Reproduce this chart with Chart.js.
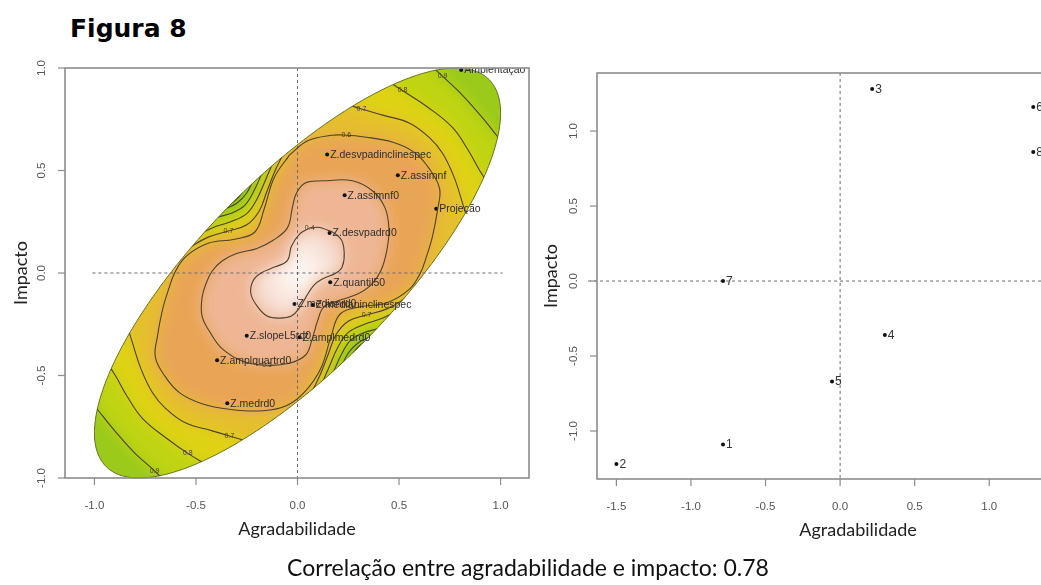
<!DOCTYPE html>
<html>
<head>
<meta charset="utf-8">
<script src="https://cdn.jsdelivr.net/npm/chart.js@4/dist/chart.umd.min.js"></script>
<style>
  html, body { margin: 0; padding: 0; width: 1041px; height: 585px; overflow: hidden; background: #fff; }
  #title { position: absolute; left: 70px; top: 16px; font: bold 25px "DejaVu Sans", Verdana, sans-serif; line-height: 25px; color: #000; }
  #caption { position: absolute; left: 0; width: 1056px; top: 554px; text-align: center; font: 23px Lato, sans-serif; line-height: 26px; color: #111; }
  #left { position: absolute; left: 0; top: 0; }
  #right { position: absolute; left: 520px; top: 0; }
</style>
</head>
<body>
<div id="title">Figura 8</div>
<canvas id="left" width="535" height="585"></canvas>
<canvas id="right" width="605" height="585"></canvas>
<div id="caption">Correlação entre agradabilidade e impacto: 0.78</div>
<script>
// ---- data -----------------------------------------------------------
const correlation = 0.78;

// variables (left panel)
const varNames = ['Ambientação', 'Z.desvpadinclinespec', 'Z.assimnf', 'Z.assimnf0', 'Projeção',
  'Z.desvpadrd0', 'Z.quantil50', 'Z.medianrd0', 'Z.medianinclinespec', 'Z.slopeL5rd0',
  'Z.amplmedrd0', 'Z.amplquartrd0', 'Z.medrd0'];
const varAgradabilidade = [0.806, 0.146, 0.494, 0.232, 0.683, 0.158, 0.161, -0.015, 0.075, -0.250, 0.010, -0.396, -0.346];
const varImpacto = [0.990, 0.578, 0.477, 0.379, 0.314, 0.195, -0.045, -0.151, -0.156, -0.306, -0.314, -0.425, -0.635];

// groups (right panel)
const groupNames = ['1', '2', '3', '4', '5', '6', '7', '8'];
const groupAgradabilidade = [-0.785, -1.50, 0.215, 0.30, -0.054, 1.295, -0.785, 1.295];
const groupImpacto = [-1.09, -1.22, 1.28, -0.36, -0.67, 1.16, 0.00, 0.86];

// axis ticks
const leftTicksX = [-1, -0.5, 0, 0.5, 1];
const leftTicksY = [-1, -0.5, 0, 0.5, 1];
const rightTicksX = [-1.5, -1, -0.5, 0, 0.5, 1, 1.5];
const rightTicksY = [-1, -0.5, 0, 0.5, 1];

// contour lines of the surface, [agradabilidade, impacto]
const contourLow04 = [[0.06,0.22],[0.12,0.22],[0.21,0.17],[0.23,0.10],[0.22,0.03],[0.19,0.00],[0.12,-0.03],[0.08,-0.06],[0.04,-0.12],[0.01,-0.17],[-0.03,-0.21],[-0.09,-0.22],[-0.15,-0.21],[-0.20,-0.16],[-0.23,-0.10],[-0.22,-0.04],[-0.18,0.00],[-0.11,0.03],[-0.05,0.06],[-0.03,0.13],[0.01,0.19],[0.06,0.22]];
const contourLow05 = [[0.12,0.45],[0.27,0.45],[0.37,0.40],[0.43,0.32],[0.45,0.22],[0.44,0.11],[0.41,0.01],[0.36,-0.06],[0.29,-0.105],[0.20,-0.135],[0.13,-0.165],[0.10,-0.23],[0.07,-0.33],[0.04,-0.40],[-0.04,-0.44],[-0.15,-0.45],[-0.27,-0.43],[-0.37,-0.37],[-0.43,-0.29],[-0.47,-0.21],[-0.47,-0.12],[-0.45,-0.05],[-0.42,0.01],[-0.37,0.06],[-0.30,0.095],[-0.20,0.12],[-0.12,0.16],[-0.05,0.22],[-0.025,0.32],[-0.005,0.39],[0.04,0.44],[0.12,0.45]];
const contourRing06 = [[-0.04,0.575],[0.05,0.645],[0.17,0.672],[0.24,0.672],[0.32,0.665],[0.47,0.638],[0.58,0.585],[0.655,0.50],[0.70,0.41],[0.69,0.31],[0.665,0.18],[0.635,0.08],[0.605,0.0],[0.55,-0.08],[0.44,-0.145],[0.31,-0.165],[0.21,-0.20],[0.165,-0.31],[0.115,-0.465],[0.04,-0.575],[-0.05,-0.645],[-0.17,-0.672],[-0.335,-0.665],[-0.47,-0.638],[-0.58,-0.585],[-0.655,-0.50],[-0.70,-0.41],[-0.69,-0.31],[-0.665,-0.18],[-0.635,-0.08],[-0.605,0.0],[-0.55,0.08],[-0.44,0.145],[-0.31,0.165],[-0.21,0.20],[-0.165,0.31],[-0.115,0.465],[-0.04,0.575]];
const capNE07 = [[0.22,0.83],[0.315,0.80],[0.42,0.77],[0.552,0.731],[0.65,0.66],[0.714,0.584],[0.77,0.47],[0.813,0.34],[0.84,0.25]];
const capNE08 = [[0.44,0.94],[0.517,0.89],[0.64,0.81],[0.764,0.709],[0.84,0.60],[0.897,0.50],[0.95,0.42]];
const capNE09 = [[0.66,1.01],[0.714,0.96],[0.80,0.88],[0.90,0.77],[0.98,0.672],[1.02,0.62]];
const capSW07 = [[-0.22,-0.83],[-0.335,-0.795],[-0.42,-0.77],[-0.552,-0.731],[-0.65,-0.66],[-0.714,-0.584],[-0.77,-0.47],[-0.813,-0.34],[-0.84,-0.25]];
const capSW08 = [[-0.44,-0.94],[-0.54,-0.88],[-0.64,-0.81],[-0.764,-0.709],[-0.84,-0.60],[-0.897,-0.50],[-0.95,-0.42]];
const capSW09 = [[-0.66,-1.01],[-0.704,-0.965],[-0.80,-0.88],[-0.90,-0.77],[-0.98,-0.672],[-1.02,-0.62]];
const patchNW07 = [[-0.07,0.58],[-0.11,0.50],[-0.15,0.40],[-0.19,0.30],[-0.25,0.235],[-0.34,0.205],[-0.44,0.175],[-0.52,0.13],[-0.58,0.085]];
const patchNW08 = [[-0.12,0.54],[-0.155,0.46],[-0.20,0.36],[-0.25,0.29],[-0.33,0.25],[-0.42,0.22],[-0.50,0.18]];
const patchNW09 = [[-0.17,0.50],[-0.21,0.41],[-0.26,0.33],[-0.33,0.29],[-0.40,0.27],[-0.46,0.235]];
const patchNW10 = [[-0.21,0.47],[-0.25,0.39],[-0.30,0.34],[-0.36,0.31],[-0.42,0.275]];
const patchNW11 = [[-0.25,0.43],[-0.29,0.37],[-0.34,0.33],[-0.39,0.30]];
const patchSE07 = [[0.07,-0.58],[0.11,-0.50],[0.15,-0.40],[0.19,-0.30],[0.25,-0.235],[0.34,-0.205],[0.44,-0.175],[0.52,-0.13],[0.58,-0.085]];
const patchSE08 = [[0.12,-0.54],[0.155,-0.46],[0.20,-0.36],[0.25,-0.29],[0.33,-0.25],[0.42,-0.22],[0.50,-0.18]];
const patchSE09 = [[0.17,-0.50],[0.21,-0.41],[0.26,-0.33],[0.33,-0.29],[0.40,-0.27],[0.46,-0.235]];
const patchSE10 = [[0.21,-0.47],[0.25,-0.39],[0.30,-0.34],[0.36,-0.31],[0.42,-0.275]];
const patchSE11 = [[0.25,-0.43],[0.29,-0.37],[0.34,-0.33],[0.39,-0.30]];

// ---- contour table built from the arrays above -----------------------
// 'inner' contours enclose the low part of the surface, 'outer' ones cut off
// the high ends and the two side patches along the ellipse border.
const contourTable = [
  { level: 0.4, pts: contourLow04, kind: 'inner', labelAt: 0 },
  { level: 0.5, pts: contourLow05, kind: 'inner', labelAt: 15 },
  { level: 0.6, pts: contourRing06, kind: 'inner', labelAt: 3 },
  { level: 0.7, pts: capNE07, kind: 'outer', labelAt: 1 },
  { level: 0.8, pts: capNE08, kind: 'outer', labelAt: 1 },
  { level: 0.9, pts: capNE09, kind: 'outer', labelAt: 1 },
  { level: 0.7, pts: capSW07, kind: 'outer', labelAt: 1 },
  { level: 0.8, pts: capSW08, kind: 'outer', labelAt: 1 },
  { level: 0.9, pts: capSW09, kind: 'outer', labelAt: 1 },
  { level: 0.7, pts: patchNW07, kind: 'outer', labelAt: 5 },
  { level: 0.8, pts: patchNW08, kind: 'outer' },
  { level: 0.9, pts: patchNW09, kind: 'outer' },
  { level: 1.0, pts: patchNW10, kind: 'outer' },
  { level: 1.1, pts: patchNW11, kind: 'outer' },
  { level: 0.7, pts: patchSE07, kind: 'outer', labelAt: 5 },
  { level: 0.8, pts: patchSE08, kind: 'outer' },
  { level: 0.9, pts: patchSE09, kind: 'outer' },
  { level: 1.0, pts: patchSE10, kind: 'outer' },
  { level: 1.1, pts: patchSE11, kind: 'outer' }
];

// ---- colours of the surface bands ------------------------------------
const rimColor = '#e5bf2e';                 // 0.6 - 0.7
const aboveColor = { 0.7: '#dfd214', 0.8: '#bfd412', 0.9: '#9bca1a', 1.0: '#92c71c', 1.1: '#86c220' };
const belowColor = { 0.6: '#e9a556', 0.5: '#eeb694' };
const lineColor = '#4f412b';

// ---- helpers ---------------------------------------------------------
function ellipseTrace(chart, ctx) {
  const { x, y } = chart.scales;
  const d = Math.acos(correlation);
  ctx.beginPath();
  for (let i = 0; i <= 360; i++) {
    const t = i * Math.PI / 180;
    const px = x.getPixelForValue(Math.cos(t + d / 2));
    const py = y.getPixelForValue(Math.cos(t - d / 2));
    if (i === 0) ctx.moveTo(px, py); else ctx.lineTo(px, py);
  }
  ctx.closePath();
}

function traceSmooth(ctx, pts, closed, move) {
  const n = pts.length;
  if (move) ctx.moveTo(pts[0][0], pts[0][1]); else ctx.lineTo(pts[0][0], pts[0][1]);
  for (let i = 0; i < n - 1; i++) {
    const p0 = pts[i - 1] || (closed ? pts[n - 2] : pts[i]);
    const p1 = pts[i], p2 = pts[i + 1];
    const p3 = pts[i + 2] || (closed ? pts[1] : p2);
    ctx.bezierCurveTo(p1[0] + (p2[0] - p0[0]) / 6, p1[1] + (p2[1] - p0[1]) / 6,
                      p2[0] - (p3[0] - p1[0]) / 6, p2[1] - (p3[1] - p1[1]) / 6, p2[0], p2[1]);
  }
}

// ---- plugins ---------------------------------------------------------
// coloured surface inside the correlation ellipse
const surfacePlugin = {
  id: 'surface',
  beforeDatasetsDraw(chart) {
    const { ctx } = chart;
    const { x, y } = chart.scales;
    const toPx = p => [x.getPixelForValue(p[0]), y.getPixelForValue(p[1])];
    const off = document.createElement('canvas');
    off.width = chart.width; off.height = chart.height;
    const o = off.getContext('2d');
    o.fillStyle = rimColor;
    o.fillRect(0, 0, off.width, off.height);

    const outer = contourTable.filter(c => c.kind === 'outer').sort((a, b) => a.level - b.level);
    outer.forEach(c => {
      const near = c.pts.map(toPx);
      const far = c.pts.slice().reverse().map(p => toPx([p[0] * 2.6, p[1] * 2.6]));
      o.beginPath();
      traceSmooth(o, near, false, true);
      far.forEach(q => o.lineTo(q[0], q[1]));
      o.closePath();
      o.fillStyle = aboveColor[c.level];
      o.fill();
    });
    const inner = contourTable.filter(c => c.kind === 'inner').sort((a, b) => b.level - a.level);
    inner.forEach(c => {
      const pts = c.pts.map(toPx);
      o.beginPath();
      traceSmooth(o, pts, true, true);
      o.closePath();
      if (belowColor[c.level]) {
        o.fillStyle = belowColor[c.level];
      } else {
        const cx = x.getPixelForValue(0), cy = y.getPixelForValue(0);
        const g = o.createRadialGradient(cx, cy, 0, cx, cy, 62);
        g.addColorStop(0, '#fffbf9');
        g.addColorStop(0.55, '#f8e2d8');
        g.addColorStop(1, '#f0c4ae');
        o.fillStyle = g;
      }
      o.fill();
    });

    ctx.save();
    ellipseTrace(chart, ctx);
    ctx.clip();
    ctx.filter = 'blur(7px)';
    ctx.drawImage(off, 0, 0);
    ctx.filter = 'none';
    ctx.restore();

    ctx.save();
    ellipseTrace(chart, ctx);
    ctx.strokeStyle = '#66701f';
    ctx.lineWidth = 1;
    ctx.stroke();
    ctx.restore();
  }
};

// dashed reference lines through zero
const zeroLines = {
  id: 'zeroLines',
  beforeDatasetsDraw(chart, args, opts) {
    const { ctx, chartArea: a } = chart;
    const { x, y } = chart.scales;
    const x0 = x.getPixelForValue(0), y0 = y.getPixelForValue(0);
    ctx.save();
    ctx.setLineDash([3, 3]);
    ctx.strokeStyle = opts.color;
    ctx.lineWidth = 1;
    ctx.beginPath();
    ctx.moveTo(x.getPixelForValue(opts.hFrom), y0);
    ctx.lineTo(x.getPixelForValue(opts.hTo), y0);
    ctx.stroke();
    ctx.beginPath();
    ctx.moveTo(x0, a.top);
    ctx.lineTo(x0, a.bottom);
    ctx.stroke();
    ctx.restore();
  }
};

// contour lines stay inside the ellipse
const ellipseClip = {
  id: 'ellipseClip',
  beforeDatasetDraw(chart, args) {
    if (chart.data.datasets[args.index].clipEllipse) {
      chart.ctx.save();
      ellipseTrace(chart, chart.ctx);
      chart.ctx.clip();
    }
  },
  afterDatasetDraw(chart, args) {
    if (chart.data.datasets[args.index].clipEllipse) chart.ctx.restore();
  }
};

// text next to points and on contour lines
const markLabels = {
  id: 'markLabels',
  afterDatasetsDraw(chart) {
    const { ctx, chartArea: a } = chart;
    chart.data.datasets.forEach((ds, i) => {
      const meta = chart.getDatasetMeta(i);
      ctx.save();
      ctx.beginPath();
      ctx.rect(a.left, a.top, a.right - a.left, a.bottom - a.top);
      ctx.clip();
      if (ds.pointLabels) {
        ctx.font = ds.labelFont;
        ctx.fillStyle = ds.labelColor;
        ctx.textAlign = 'left';
        ctx.textBaseline = 'middle';
        meta.data.forEach((el, j) => ctx.fillText(ds.pointLabels[j], el.x + ds.labelGap, el.y + 0.5));
      }
      if (ds.levelLabel !== undefined && ds.labelAt !== undefined) {
        const el = meta.data[ds.labelAt];
        ctx.font = '7px "Liberation Sans", Arial, sans-serif';
        ctx.fillStyle = '#4a3c24';
        ctx.textAlign = 'center';
        ctx.textBaseline = 'middle';
        ctx.fillText(ds.levelLabel.toFixed(1), el.x, el.y);
      }
      ctx.restore();
    });
  }
};

// box, outward ticks, tick labels and axis titles
const rAxes = {
  id: 'rAxes',
  afterDraw(chart, args, o) {
    const { ctx, chartArea: a } = chart;
    const { x, y } = chart.scales;
    ctx.save();
    ctx.strokeStyle = '#8c8c8c';
    ctx.lineWidth = 1.6;
    ctx.strokeRect(a.left, a.top, a.right - a.left, a.bottom - a.top);
    ctx.lineWidth = 1.2;
    ctx.fillStyle = '#555';
    ctx.font = '11.5px "Liberation Sans", Arial, sans-serif';
    ctx.textAlign = 'center';
    ctx.textBaseline = 'middle';
    o.xTicks.forEach(v => {
      const p = x.getPixelForValue(v);
      ctx.beginPath(); ctx.moveTo(p, a.bottom); ctx.lineTo(p, a.bottom + 7); ctx.stroke();
      ctx.fillText(v.toFixed(1), p, a.bottom + 28);
    });
    o.yTicks.forEach(v => {
      const p = y.getPixelForValue(v);
      ctx.beginPath(); ctx.moveTo(a.left - 7, p); ctx.lineTo(a.left, p); ctx.stroke();
      ctx.save();
      ctx.translate(a.left - 23, p);
      ctx.rotate(-Math.PI / 2);
      ctx.fillText(v.toFixed(1), 0, 0);
      ctx.restore();
    });
    ctx.fillStyle = '#222';
    ctx.font = '18px Lato, "Open Sans", sans-serif';
    ctx.fillText(o.xTitle, (a.left + a.right) / 2, a.bottom + 51);
    ctx.save();
    ctx.translate(a.left - o.yTitleGap, (a.top + a.bottom) / 2);
    ctx.rotate(-Math.PI / 2);
    ctx.fillText(o.yTitle, 0, 0);
    ctx.restore();
    ctx.restore();
  }
};

// ---- datasets --------------------------------------------------------
const toXY = pts => pts.map(p => ({ x: p[0], y: p[1] }));

const contourDatasets = contourTable.map(c => ({
  data: toXY(c.pts),
  showLine: true,
  clipEllipse: true,
  borderColor: lineColor,
  borderWidth: 1.1,
  tension: 0.4,
  pointRadius: 0,
  levelLabel: c.level,
  labelAt: c.labelAt
}));

const varDataset = {
  data: varAgradabilidade.map((v, i) => ({ x: v, y: varImpacto[i] })),
  pointRadius: 2,
  pointBackgroundColor: '#111',
  pointBorderWidth: 0,
  pointLabels: varNames,
  labelFont: '10.5px "Liberation Sans", Arial, sans-serif',
  labelColor: '#2e2e2e',
  labelGap: 3
};

const groupDataset = {
  data: groupAgradabilidade.map((v, i) => ({ x: v, y: groupImpacto[i] })),
  pointRadius: 2,
  pointBackgroundColor: '#111',
  pointBorderWidth: 0,
  pointLabels: groupNames,
  labelFont: '12px "Liberation Sans", Arial, sans-serif',
  labelColor: '#333',
  labelGap: 3
};

const common = {
  responsive: false,
  animation: false,
  devicePixelRatio: 1,
  events: []
};

new Chart(document.getElementById('left'), {
  type: 'scatter',
  data: { datasets: [...contourDatasets, varDataset] },
  options: {
    ...common,
    layout: { padding: { left: 65, top: 68, right: 6, bottom: 107 } },
    scales: {
      x: { type: 'linear', min: -1.145, max: 1.14, display: false },
      y: { type: 'linear', min: -1, max: 1, display: false }
    },
    plugins: {
      legend: { display: false },
      tooltip: { enabled: false },
      zeroLines: { color: '#6b6b78', hFrom: -1.01, hTo: 1.01 },
      rAxes: { xTicks: leftTicksX, yTicks: leftTicksY, xTitle: 'Agradabilidade', yTitle: 'Impacto', yTitleGap: 44 }
    }
  },
  plugins: [surfacePlugin, zeroLines, ellipseClip, markLabels, rAxes]
});

new Chart(document.getElementById('right'), {
  type: 'scatter',
  data: { datasets: [groupDataset] },
  options: {
    ...common,
    layout: { padding: { left: 77, top: 73, right: 6, bottom: 106 } },
    scales: {
      x: { type: 'linear', min: -1.63, max: 1.87, display: false },
      y: { type: 'linear', min: -1.32, max: 1.387, display: false }
    },
    plugins: {
      legend: { display: false },
      tooltip: { enabled: false },
      zeroLines: { color: '#6b6b78', hFrom: -1.69, hTo: 1.87 },
      rAxes: { xTicks: rightTicksX, yTicks: rightTicksY, xTitle: 'Agradabilidade', yTitle: 'Impacto', yTitleGap: 46 }
    }
  },
  plugins: [zeroLines, markLabels, rAxes]
});
</script>
</body>
</html>
